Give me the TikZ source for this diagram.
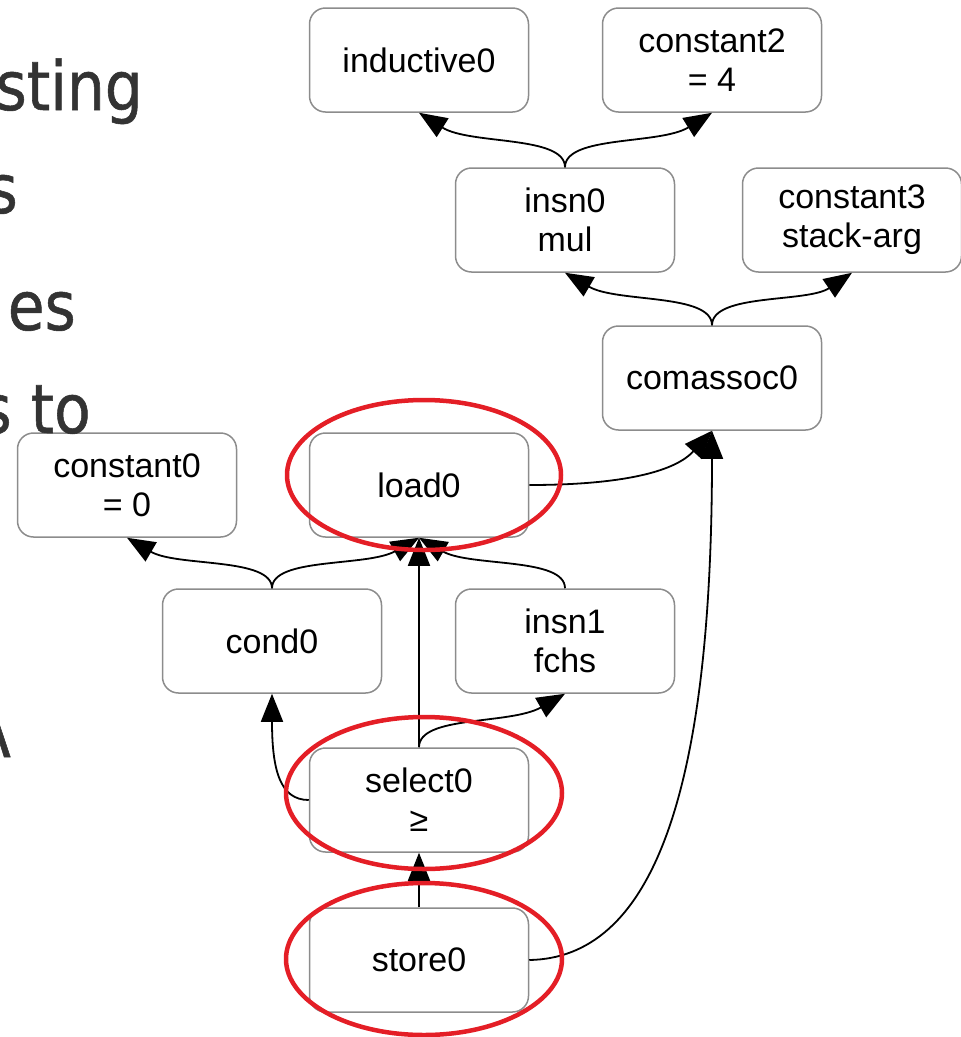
\documentclass[tikz,border=0pt]{standalone}
\usepackage{fontspec}
\usetikzlibrary{arrows.meta}
\newfontfamily\irfont{Liberation Sans}
\newfontfamily\slidefont[FakeStretch=0.88,FakeBold=0.8]{DejaVu Sans}
\definecolor{ringred}{RGB}{228,30,38}
\definecolor{boxgray}{RGB}{140,140,140}
\definecolor{slidegray}{RGB}{51,51,51}

\begin{document}
\begin{tikzpicture}[x=1pt, y=-1pt, >={Triangle[length=28pt,width=22pt]},
    irnode/.style={draw=boxgray, fill=white, line width=1.5pt, rounded corners=16pt,
      minimum width=219pt, minimum height=104pt, align=center,
      font=\irfont\fontsize{34}{39}\selectfont},
    link/.style={->, line width=1.8pt},
    ring/.style={draw=ringred, line width=4.5pt},
    slide/.style={anchor=base east, text=slidegray, inner sep=0pt,
      font=\slidefont\fontsize{68}{80}\selectfont}]
    \useasboundingbox (0,0) rectangle (961,1037);
    \clip (0,0) rectangle (961,1037);

    % graph nodes
    \node[irnode] (inductive0) at (419,60) {inductive0};
    \node[irnode] (constant2) at (712,60) {constant2\\= 4};
    \node[irnode] (insn0) at (565,220) {insn0\\mul};
    \node[irnode] (constant3) at (852,220) {constant3\\stack-arg};
    \node[irnode] (comassoc0) at (712,378) {comassoc0};
    \node[irnode] (constant0) at (127,485) {constant0\\= 0};
    \node[irnode] (load0) at (419,485) {load0};
    \node[irnode] (cond0) at (272,641) {cond0};
    \node[irnode] (insn1) at (565,641) {insn1\\fchs};
    \node[irnode] (select0) at (419,800) {select0\\≥};
    \node[irnode] (store0) at (419,960) {store0};

    % operand edges
    \draw[link] (insn0.north) .. controls (565,135) and (470,145) .. (inductive0.south);
    \draw[link] (insn0.north) .. controls (565,135) and (660,145) .. (constant2.south);
    \draw[link] (comassoc0.north) .. controls (712,293) and (617,303) .. (insn0.south);
    \draw[link] (comassoc0.north) .. controls (712,293) and (807,303) .. (constant3.south);
    \draw[link] (load0.east) .. controls (600,485) and (670,477) .. (comassoc0.south);
    \draw[link] (store0.east) .. controls (650,958) and (712,800) .. (comassoc0.south);
    \draw[link] (cond0.north) .. controls (272,557) and (177,567) .. (constant0.south);
    \draw[link] (cond0.north) .. controls (272,557) and (367,567) .. (load0.south);
    \draw[link] (insn1.north) .. controls (565,557) and (470,567) .. (load0.south);
    \draw[link] (select0.north) -- (load0.south);
    \draw[link] (select0.north) .. controls (419,715) and (510,725) .. (insn1.south);
    \draw[link] (select0.west) .. controls (280,800) and (272,770) .. (cond0.south);
    \draw[link] (store0.north) -- (select0.south);

    % highlights
    \draw[ring] (424,475) ellipse [x radius=137, y radius=75];
    \draw[ring] (424,793) ellipse [x radius=138, y radius=76];
    \draw[ring] (424,959) ellipse [x radius=138, y radius=76];

    % cut-off slide text
    \node[slide] (line1) at (143,110) {sting};
    \node[slide] (line2) at (18,213) {s};
    \node[slide] (line3) at (76,330) {es};
    \node[slide] (line4) at (91,433) {s to};
    \node[slide] (line5) at (11,757) {A};
\end{tikzpicture}
\end{document}
